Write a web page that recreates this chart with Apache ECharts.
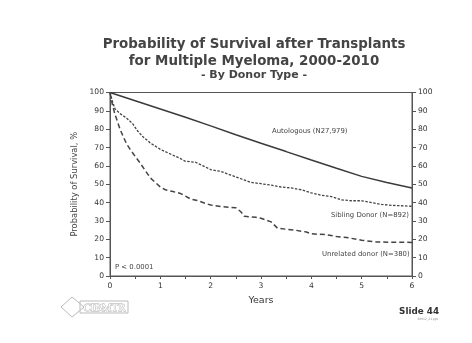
<!DOCTYPE html>
<html><head><meta charset="utf-8">
<script src="https://cdn.jsdelivr.net/npm/echarts@6/dist/echarts.min.js"></script>
<style>html,body{margin:0;padding:0;background:#fff}#c{width:472px;height:343px}</style>
</head><body><div id="c"></div>
<script>
const yTicks = [0,10,20,30,40,50,60,70,80,90,100];
const xTickLabels = ['0','1','2','3','4','5','6'];
const autoX = [0,0.5,1,1.5,2,2.5,3,3.5,4,4.5,5,5.5,6];
const autoY = [100,95.5,91,86.5,81.8,77,72.3,67.8,63.2,58.7,54.3,51,48];
const sibX = [0,0.05,0.1,0.2,0.33,0.45,0.55,0.65,0.8,1,1.2,1.4,1.5,1.7,1.85,2,2.2,2.4,2.6,2.8,3,3.2,3.4,3.6,3.8,4,4.2,4.4,4.6,4.8,5,5.2,5.4,5.6,6];
const sibY = [100,95,91,88.5,86,83,79,76,72.5,69,66.5,64,62.5,62,60,58,57,55,53,51,50.3,49.5,48.5,48,47,45.3,44,43.3,41.5,41,41,40,39,38.5,38];
const unrX = [0,0.05,0.1,0.15,0.2,0.27,0.33,0.4,0.5,0.6,0.7,0.8,0.9,1,1.1,1.25,1.4,1.5,1.6,1.75,1.9,2,2.2,2.5,2.6,2.67,2.9,3,3.2,3.33,3.5,3.67,3.9,4,4.3,4.5,4.7,4.9,5,5.3,6];
const unrY = [100,93,88,84,80,75.5,72,69,65.2,61.5,57.5,53.5,51,48.5,47,46,45,43.5,42,41,39.5,38.7,37.8,37.2,35,32.5,32,31.5,29.5,26,25.5,25,24,23,22.5,21.5,21,20,19.5,18.5,18.3];
const zip = (a,b) => a.map((v,i)=>[v,b[i]]);
const FONT = 'DejaVu Sans';
const axisCol = '#555';
const yAxisBase = {
  type:'value', min:0, max:100, interval:10,
  axisLine:{show:true,lineStyle:{color:axisCol,width:1}},
  axisTick:{show:true,length:4,lineStyle:{color:axisCol}},
  splitLine:{show:false},
  axisLabel:{color:'#333',fontSize:7.6,fontFamily:FONT,margin:6,
    formatter:v=>yTicks.includes(v)?String(v):''}
};
const chart = echarts.init(document.getElementById('c'));
chart.setOption({
  animation:false,
  backgroundColor:'#fff',
  grid:{left:110,right:60,top:92.5,bottom:67,show:true,borderColor:axisCol,borderWidth:1},
  xAxis:{type:'value',min:0,max:6,interval:0.5,
    name:'Years',nameLocation:'middle',nameGap:20,nameTextStyle:{fontFamily:FONT,fontSize:9.5,color:'#333'},
    axisLine:{lineStyle:{color:axisCol}},axisTick:{length:3,lineStyle:{color:axisCol}},splitLine:{show:false},
    axisLabel:{color:'#333',fontSize:7.6,fontFamily:FONT,margin:6,
      formatter:v=>Number.isInteger(v)&&xTickLabels.includes(String(v))?String(v):''}},
  yAxis:[
    Object.assign({},yAxisBase,{position:'left',name:'Probability of Survival, %',nameLocation:'middle',nameGap:31,
      nameTextStyle:{fontFamily:FONT,fontSize:8.4,color:'#444'}}),
    Object.assign({},yAxisBase,{position:'right'})
  ],
  series:[
    {type:'line',data:zip(autoX,autoY),showSymbol:false,lineStyle:{color:'#3a3a3a',width:1.5}},
    {type:'line',data:zip(sibX,sibY),showSymbol:false,lineStyle:{color:'#444',width:1.3,type:[2.5,1.5]}},
    {type:'line',data:zip(unrX,unrY),showSymbol:false,lineStyle:{color:'#444',width:1.5,type:[5,3]}}
  ],
  graphic:[
    {type:'text',x:254,y:45,style:{text:'Probability of Survival after Transplants',fontFamily:FONT,fontWeight:'bold',fontSize:13.4,fill:'#444',textAlign:'center',textVerticalAlign:'middle'}},
    {type:'text',x:254,y:62,style:{text:'for Multiple Myeloma, 2000-2010',fontFamily:FONT,fontWeight:'bold',fontSize:13.4,fill:'#444',textAlign:'center',textVerticalAlign:'middle'}},
    {type:'text',x:254,y:75.5,style:{text:'- By Donor Type -',fontFamily:FONT,fontWeight:'bold',fontSize:11,fill:'#444',textAlign:'center',textVerticalAlign:'middle'}},
    {type:'text',left:272,top:128,style:{text:'Autologous (N27,979)',fontFamily:FONT,fontSize:6.9,fill:'#444'}},
    {type:'text',left:331,top:212,style:{text:'Sibling Donor (N=892)',fontFamily:FONT,fontSize:6.9,fill:'#444'}},
    {type:'text',left:322,top:251,style:{text:'Unrelated donor (N=380)',fontFamily:FONT,fontSize:6.9,fill:'#444'}},
    {type:'text',left:115,top:264,style:{text:'P < 0.0001',fontFamily:FONT,fontSize:6.9,fill:'#444'}},
    {type:'polygon',shape:{points:[[72,297],[84,307],[72,317],[61,307]]},style:{fill:'none',stroke:'#bbb',lineWidth:1}},
    {type:'rect',shape:{x:80,y:301,width:48,height:12},style:{fill:'none',stroke:'#bbb',lineWidth:1}},
    {type:'text',left:83,top:302,style:{text:'CIBMTR',fontFamily:'Liberation Serif',fontSize:11,fill:'#fff',stroke:'#aaa',lineWidth:0.8}},
    {type:'text',right:33,top:307,style:{text:'Slide 44',fontFamily:FONT,fontWeight:'bold',fontSize:8.8,fill:'#333'}},
    {type:'text',right:34,top:318,style:{text:'SIM12_21.ppt',fontFamily:FONT,fontSize:3,fill:'#888'}}
  ]
});
</script></body></html>
